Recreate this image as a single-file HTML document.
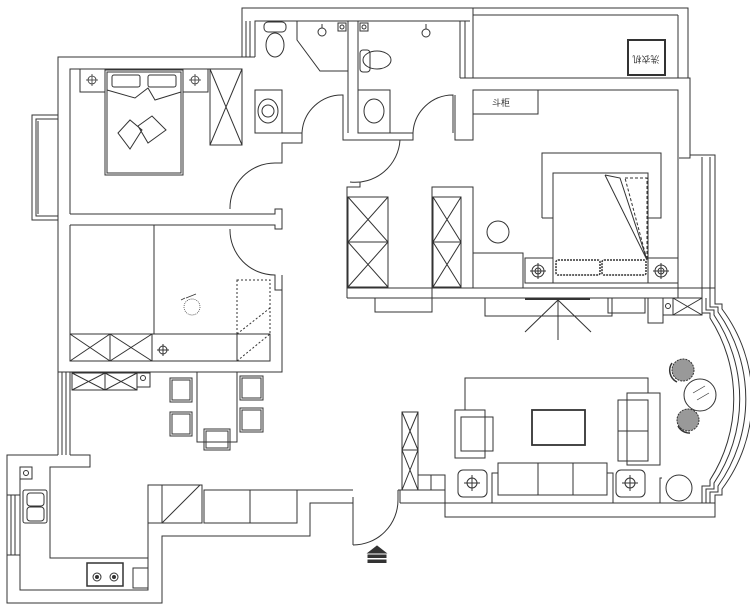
<!DOCTYPE html>
<html><head><meta charset="utf-8"><style>
html,body{margin:0;padding:0;background:#fff;}
svg{display:block}
text{font-family:"Liberation Sans","Noto Sans CJK SC",sans-serif;}
</style></head><body>
<svg width="750" height="606" viewBox="0 0 750 606" xmlns="http://www.w3.org/2000/svg" fill="none" stroke="#333" stroke-width="1">
<!-- TOP bathrooms block -->
<path d="M242 57 V8 H688 V78"/>
<path d="M255 57 V21 H470"/>
<line x1="246" y1="21" x2="246" y2="57"/><line x1="250" y1="21" x2="250" y2="57"/>
<line x1="473" y1="15" x2="678" y2="15"/><line x1="678" y1="15" x2="678" y2="78"/>
<line x1="460" y1="21" x2="460" y2="78"/><line x1="465" y1="21" x2="465" y2="78"/><line x1="473" y1="8" x2="473" y2="78"/>
<!-- washing machine -->
<rect x="628" y="40" width="37" height="35" stroke-width="2"/>
<text x="646" y="62" font-size="9" fill="#333" stroke="none" text-anchor="middle" transform="rotate(180 646 59)">洗衣机</text>
<!-- bath1 -->
<ellipse cx="275" cy="45" rx="9" ry="12"/><rect x="264" y="22" width="22" height="10" rx="4"/>
<path d="M297 21 V40 L320 71 H348"/>
<line x1="348" y1="21" x2="348" y2="133"/><line x1="358" y1="21" x2="358" y2="133"/>
<circle cx="322" cy="32" r="4"/><line x1="322" y1="24" x2="322" y2="28"/>
<rect x="338" y="23" width="8" height="8"/><circle cx="342" cy="27" r="2"/>
<rect x="255" y="90" width="27" height="43"/><ellipse cx="268" cy="111" rx="10" ry="12"/><circle cx="268" cy="111" r="6"/>
<path d="M255 133 H302 V143 H282 V163 H275"/>
<path d="M302 133 A40 40 0 0 1 343 95 V133"/>
<path d="M343 133 V140 H358"/>
<!-- bath2 -->
<rect x="360" y="23" width="8" height="8"/><circle cx="364" cy="27" r="2"/>
<ellipse cx="377" cy="60" rx="14" ry="9"/><rect x="360" y="50" width="10" height="22" rx="3"/>
<circle cx="426" cy="33" r="4"/><line x1="426" y1="24" x2="426" y2="29"/>
<rect x="358" y="90" width="32" height="43"/><ellipse cx="374" cy="111" rx="10" ry="12"/>
<path d="M358 133 H413 V140 H348"/>
<path d="M413 133 A40 40 0 0 1 453 95 V133"/>
<path d="M455 95 V140 H473 V90"/>
<path d="M400 140 A45 45 0 0 1 350 182"/>
<!-- bedroom 1 -->
<path d="M255 57 H58 V115"/><path d="M242 69 H70 V214"/>
<path d="M58 220 V225"/>
<rect x="32" y="115" width="26" height="105"/><rect x="36" y="119" width="22" height="97"/><line x1="38" y1="121" x2="38" y2="214"/>
<rect x="80" y="69" width="25" height="23"/><rect x="183" y="69" width="25" height="23"/>
<g stroke-width="0.8"><circle cx="92" cy="80" r="4"/><line x1="86" y1="80" x2="98" y2="80"/><line x1="92" y1="74" x2="92" y2="86"/>
<circle cx="195" cy="80" r="4"/><line x1="189" y1="80" x2="201" y2="80"/><line x1="195" y1="74" x2="195" y2="86"/></g>
<rect x="105" y="70" width="78" height="105"/><rect x="107" y="72" width="74" height="101"/>
<rect x="112" y="75" width="28" height="12" rx="2"/><rect x="148" y="75" width="28" height="12" rx="2"/>
<path d="M107 90 L135 98 L148 88 L155 100 L181 92"/>
<path d="M118 133 L130 120 L142 130 L130 149 Z M138 126 L152 116 L166 130 L148 143 Z"/>
<rect x="210" y="69" width="32" height="76"/><path d="M210 69 L242 145 M242 69 L210 145"/>
<path d="M70 214 H275 V209 H282 V229 H275 V225 H70"/>
<path d="M230 209 A45 45 0 0 1 275 163"/>
<path d="M230 229 A45 45 0 0 0 275 275 V290 H282 V275"/>
<!-- bedroom 2 -->
<path d="M58 225 V455 M70 225 V334"/>
<line x1="62" y1="372" x2="62" y2="455"/><line x1="66" y1="372" x2="66" y2="455"/><line x1="70" y1="372" x2="70" y2="455"/>
<line x1="154" y1="225" x2="154" y2="334"/>
<rect x="70" y="334" width="200" height="27"/>
<path d="M70 334 L110 361 M110 334 L70 361 M110 334 L152 361 M152 334 L110 361"/>
<line x1="110" y1="334" x2="110" y2="361"/><line x1="152" y1="334" x2="152" y2="361"/><line x1="237" y1="334" x2="237" y2="361"/>
<circle cx="163" cy="350" r="4"/><line x1="157" y1="350" x2="169" y2="350"/><line x1="163" y1="344" x2="163" y2="356"/>
<rect x="237" y="280" width="33" height="54" stroke-dasharray="2 2"/><path d="M237 334 L270 308 M237 361 L270 334" stroke-dasharray="2 2"/>
<path d="M58 372 H282 V290"/>
<g stroke-width="0.7"><circle cx="192" cy="307" r="8" stroke-dasharray="1 1"/><path d="M186 298 L196 294 M181 300 L185 298"/></g>
<!-- dining -->
<rect x="72" y="373" width="65" height="17"/><path d="M72 373 L105 390 M105 373 L72 390 M105 373 L137 390 M137 373 L105 390"/><line x1="105" y1="373" x2="105" y2="390"/>
<rect x="137" y="373" width="13" height="14"/><circle cx="143" cy="378" r="2.5"/>
<rect x="197" y="372" width="40" height="70"/>
<rect x="170" y="378" width="22" height="24"/><rect x="172" y="380" width="18" height="20"/>
<rect x="170" y="412" width="22" height="24"/><rect x="172" y="414" width="18" height="20"/>
<rect x="240" y="376" width="23" height="24"/><rect x="242" y="378" width="19" height="20"/>
<rect x="240" y="408" width="23" height="24"/><rect x="242" y="410" width="19" height="20"/>
<rect x="204" y="429" width="26" height="21"/><rect x="206" y="431" width="22" height="17"/>
<!-- kitchen -->
<path d="M70 455 H90 V467 H50 V558 H148 V485"/>
<path d="M58 455 H7 V603 H162 V536 H310 V503 H353"/>
<path d="M20 467 V590 H148 V558"/>
<rect x="7" y="495" width="13" height="60"/><line x1="11" y1="495" x2="11" y2="555"/><line x1="15" y1="495" x2="15" y2="555"/>
<rect x="20" y="467" width="12" height="12"/><circle cx="26" cy="473" r="2.5"/>
<rect x="23" y="490" width="24" height="33" rx="2"/><rect x="27" y="493" width="17" height="13" rx="3"/><rect x="27" y="507" width="17" height="14" rx="3"/>
<rect x="87" y="563" width="36" height="23" stroke-width="1.5"/><circle cx="97" cy="577" r="4"/><circle cx="114" cy="577" r="4"/><circle cx="97" cy="577" r="1.5" fill="#333"/><circle cx="114" cy="577" r="1.5" fill="#333"/>
<rect x="133" y="568" width="15" height="20"/>
<rect x="148" y="485" width="14" height="38"/>
<rect x="162" y="485" width="40" height="38"/><line x1="162" y1="523" x2="200" y2="485"/>
<rect x="204" y="490" width="46" height="33"/><rect x="250" y="490" width="47" height="33"/>
<path d="M297 490 H353"/>
<!-- entry door -->
<path d="M353 497 V545 M353 545 A45 45 0 0 0 398 500 V490"/>
<path d="M368 553 L377 546 L386 553 Z" fill="#333"/><rect x="368" y="555" width="18" height="2.5" fill="#333"/><rect x="368" y="560" width="18" height="2.5" fill="#333"/>
<!-- corridor wardrobes / master -->
<path d="M347 298 V187 H360 V182"/>
<rect x="348" y="197" width="40" height="90"/><path d="M348 197 L388 242 L348 287 M388 197 L348 242 L388 287"/><line x1="348" y1="242" x2="388" y2="242"/>
<path d="M432 298 V187 H473 V288"/>
<rect x="433" y="197" width="28" height="90"/><path d="M433 197 L461 242 L433 287 M461 197 L433 242 L461 287"/><line x1="433" y1="242" x2="461" y2="242"/>
<path d="M347 298 H702 M347 288 H715"/>
<path d="M473 140 V90 H678 V298 M460 140 H473"/>
<path d="M460 78 H690 V158 H679"/>
<rect x="473" y="90" width="65" height="24"/><text x="492" y="106" font-size="9" fill="#333" stroke="none">斗柜</text>
<path d="M690 155 H715 V298 M702 157 V298 M710 157 V298"/>
<circle cx="498" cy="232" r="11"/>
<path d="M473 253 H523 V288"/>
<path d="M542 218 V153 H661 V218 H648 M542 218 H553"/>
<rect x="553" y="173" width="95" height="110"/>
<path d="M605 175 L647 260 M605 175 L620 178 L647 260"/>
<path d="M625 178 L647 178 L647 260 Z" stroke-dasharray="3 2"/>
<rect x="525" y="258" width="28" height="25"/><rect x="648" y="258" width="30" height="25"/>
<circle cx="538" cy="271" r="6"/><circle cx="538" cy="271" r="3"/><line x1="530" y1="271" x2="546" y2="271"/><line x1="538" y1="263" x2="538" y2="279"/>
<circle cx="661" cy="271" r="6"/><circle cx="661" cy="271" r="3"/><line x1="653" y1="271" x2="669" y2="271"/><line x1="661" y1="263" x2="661" y2="279"/>
<rect x="556" y="260" width="44" height="15" rx="2" stroke-width="1.5" stroke-dasharray="2 1"/><rect x="602" y="260" width="44" height="15" rx="2" stroke-width="1.5" stroke-dasharray="2 1"/>
<!-- under master wall -->
<rect x="375" y="298" width="57" height="14"/>
<rect x="485" y="298" width="127" height="18"/><line x1="525" y1="299" x2="590" y2="299" stroke-width="2"/>
<path d="M558 298 V340 M558 300 L525 332 M558 300 L591 332"/>
<rect x="608" y="298" width="37" height="15"/>
<path d="M648 298 V323 H663 V298"/>
<rect x="663" y="298" width="10" height="17"/><circle cx="668" cy="306" r="2.5"/>
<rect x="673" y="298" width="29" height="17"/><path d="M673 298 L702 315 M702 298 L673 315"/>
<!-- bay window -->
<path d="M702 298 V313 H710 V318 A150 150 0 0 1 710 480 V486 H702 V503"/>
<path d="M706 298 V310 H714 V315 A150 150 0 0 1 714 483 V489 H706 V503" />
<path d="M710 298 V307 H718 V312 A150 150 0 0 1 718 486 V492 H710 V503"/>
<path d="M715 298 V304 H722 V309 A150 150 0 0 1 722 489 V495 H715 V517"/>
<!-- living -->
<path d="M400 503 V490 H445 V503 M445 503 V517 H715 V503 H400"/>
<line x1="398" y1="490" x2="400" y2="490"/>
<rect x="402" y="412" width="16" height="78"/><path d="M402 412 L418 450 L402 490 M418 412 L402 450 L418 490"/><line x1="402" y1="450" x2="418" y2="450"/>
<rect x="418" y="475" width="27" height="15"/><line x1="431" y1="475" x2="431" y2="490"/>
<path d="M465 410 V378 H648 V393"/>
<rect x="455" y="410" width="30" height="48"/><rect x="461" y="417" width="32" height="34"/>
<rect x="532" y="410" width="53" height="35" stroke-width="1.8"/>
<rect x="627" y="393" width="33" height="72"/><rect x="618" y="400" width="30" height="61"/><line x1="618" y1="431" x2="648" y2="431"/>
<rect x="498" y="463" width="109" height="32"/><line x1="538" y1="463" x2="538" y2="495"/><line x1="573" y1="463" x2="573" y2="495"/>
<path d="M498 473 H492 V503 M607 473 H613 V503"/>
<rect x="458" y="470" width="29" height="27" rx="5"/><rect x="616" y="470" width="29" height="27" rx="5"/>
<circle cx="472" cy="483" r="5"/><line x1="464" y1="483" x2="480" y2="483"/><line x1="472" y1="475" x2="472" y2="491"/>
<circle cx="630" cy="483" r="5"/><line x1="622" y1="483" x2="638" y2="483"/><line x1="630" y1="475" x2="630" y2="491"/>
<path d="M660 503 V478 H662"/>
<circle cx="679" cy="488" r="13"/>
<circle cx="683" cy="370" r="11" fill="#999" stroke-dasharray="2 1"/><path d="M672 363 A13 13 0 0 0 677 382" stroke-width="1.5"/>
<circle cx="688" cy="420" r="11" fill="#999" stroke-dasharray="2 1"/><path d="M678 426 A13 13 0 0 0 690 433" stroke-width="1.5"/>
<circle cx="700" cy="395" r="16"/><path d="M693 393 L705 386 M697 400 L709 393" stroke-width="0.7"/>
</svg>
</body></html>
